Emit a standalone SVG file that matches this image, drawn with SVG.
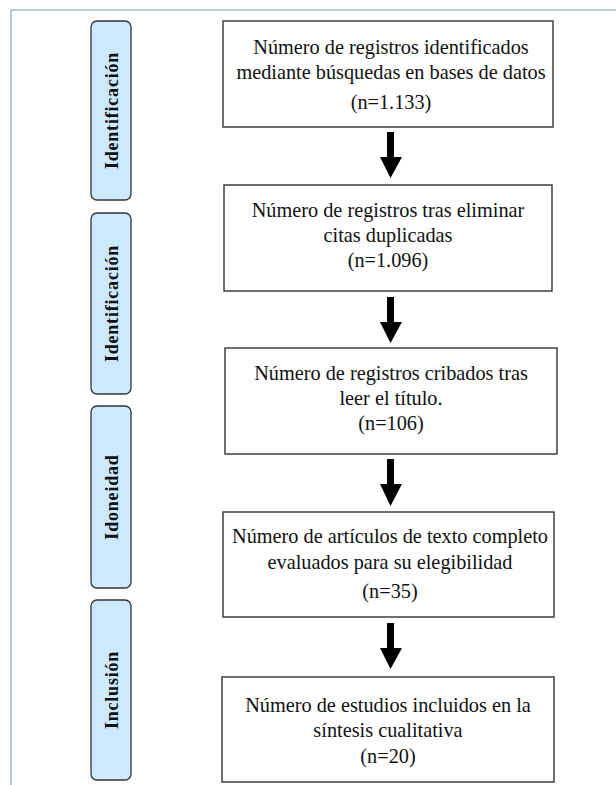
<svg xmlns="http://www.w3.org/2000/svg" width="616" height="785" viewBox="0 0 616 785">
<defs>
<style>
.frame{fill:none;stroke:#a9b6cf;stroke-width:1.5}
.pill{fill:#cde9ff;stroke:#333;stroke-width:1.3}
.box{fill:#fff;stroke:#333;stroke-width:1.4}
.lbl{font-weight:bold;font-size:18px;letter-spacing:0.8px;fill:#111;text-anchor:middle}
.txt{font-size:20.3px;fill:#111;text-anchor:middle}
.arrow{fill:#000}
</style>
</defs>
<rect width="616" height="785" fill="#fff"/>
<path class="frame" d="M11,785 V10 H616"/>
<g font-family="'Liberation Serif', 'Times New Roman', serif">
<g id="stage-1">
<rect class="pill" x="91" y="21" width="40" height="179" rx="6"/>
<text class="lbl" transform="translate(117.5,110.5) rotate(-90)">Identificación</text>
</g>
<g id="stage-2">
<rect class="pill" x="91" y="213" width="40" height="181" rx="6"/>
<text class="lbl" transform="translate(117.5,303.5) rotate(-90)">Identificación</text>
</g>
<g id="stage-3">
<rect class="pill" x="91" y="406" width="40" height="182" rx="6"/>
<text class="lbl" transform="translate(117.5,497) rotate(-90)">Idoneidad</text>
</g>
<g id="stage-4">
<rect class="pill" x="91" y="600" width="40" height="180" rx="6"/>
<text class="lbl" transform="translate(117.5,690) rotate(-90)">Inclusión</text>
</g>
<g id="box-1">
<rect class="box" x="223" y="21" width="330" height="106"/>
<text class="txt" x="391" y="54">Número de registros identificados</text>
<text class="txt" x="391" y="79">mediante búsquedas en bases de datos</text>
<text class="txt" x="391" y="109">(n=1.133)</text>
</g>
<g id="box-2">
<rect class="box" x="224" y="185" width="328" height="106"/>
<text class="txt" x="388" y="217">Número de registros tras eliminar</text>
<text class="txt" x="388" y="242">citas duplicadas</text>
<text class="txt" x="388" y="267">(n=1.096)</text>
</g>
<g id="box-3">
<rect class="box" x="225" y="348" width="332" height="106"/>
<text class="txt" x="391" y="380">Número de registros cribados tras</text>
<text class="txt" x="391" y="405">leer el título.</text>
<text class="txt" x="391" y="430">(n=106)</text>
</g>
<g id="box-4">
<rect class="box" x="223" y="512" width="331" height="105"/>
<text class="txt" x="390" y="543">Número de artículos de texto completo</text>
<text class="txt" x="390" y="569">evaluados para su elegibilidad</text>
<text class="txt" x="390" y="598">(n=35)</text>
</g>
<g id="box-5">
<rect class="box" x="222" y="677" width="332" height="105"/>
<text class="txt" x="388" y="712">Número de estudios incluidos en la</text>
<text class="txt" x="388" y="737">síntesis cualitativa</text>
<text class="txt" x="388" y="763">(n=20)</text>
</g>
</g>
<g id="connectors">
<path class="arrow" d="M387,132 H394 V157 H402 L390.5,178 L380,157 H387 Z"/>
<path class="arrow" d="M387,297 H394 V322 H402 L390.5,343 L380,322 H387 Z"/>
<path class="arrow" d="M387,459 H394 V484 H402 L390.5,506 L380,484 H387 Z"/>
<path class="arrow" d="M387,623 H394 V648 H402 L390.5,669 L380,648 H387 Z"/>
</g>
</svg>
